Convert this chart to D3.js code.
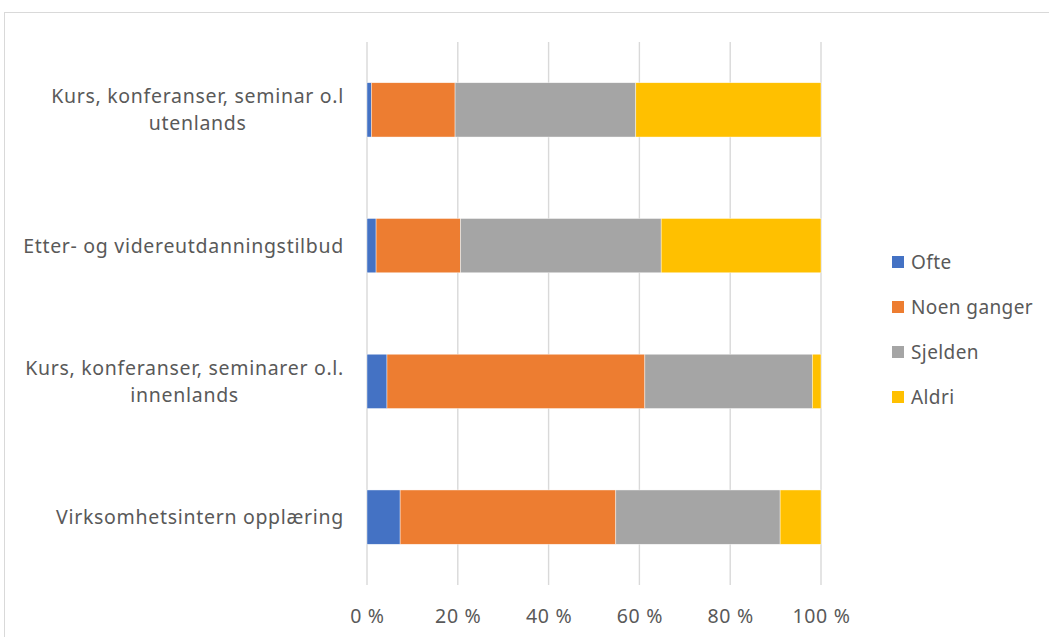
<!DOCTYPE html>
<html>
<head>
<meta charset="utf-8">
<script src="https://cdn.jsdelivr.net/npm/d3@7"></script>
<style>
  html, body { margin: 0; padding: 0; background: #fff; }
  svg { display: block; }
  text { font-family: "Noto Sans", "Open Sans", sans-serif; fill: #595959; }
</style>
</head>
<body>
<svg id="chart" width="1049" height="637"></svg>
<script>
// Categories, top to bottom; "\n" marks a line break in the axis label
const categories = [
  "Kurs, konferanser, seminar o.l\nutenlands",
  "Etter- og videreutdanningstilbud",
  "Kurs, konferanser, seminarer o.l.\ninnenlands",
  "Virksomhetsintern opplæring"
];
const seriesNames = ["Ofte", "Noen ganger", "Sjelden", "Aldri"];
// Shares in percent, one array per series, same order as categories
const ofte       = [0.95, 2.0, 4.4, 7.3];
const noenGanger = [18.45, 18.6, 56.8, 47.5];
const sjelden    = [39.8, 44.2, 36.9, 36.2];
const aldri      = [40.8, 35.2, 1.9, 9.0];
const xTicks = [0, 0.2, 0.4, 0.6, 0.8, 1.0];
const colors = ["#4472C4", "#ED7D31", "#A5A5A5", "#FFC000"];

const seriesValues = [ofte, noenGanger, sjelden, aldri];
const rows = categories.map((c, i) => {
  const r = { category: c };
  const total = seriesValues.reduce((s, arr) => s + arr[i], 0);
  seriesNames.forEach((n, k) => { r[n] = seriesValues[k][i] / total; });
  return r;
});

const svg = d3.select("#chart");
const fontFamily = "\"Noto Sans\", \"Open Sans\", sans-serif";

// Chart area frame
svg.append("rect")
  .attr("x", 4.5).attr("y", 12.5)
  .attr("width", 1060).attr("height", 640)
  .attr("fill", "#fff")
  .attr("stroke", "#d9d9d9").attr("stroke-width", 1);

const plot = { left: 367, right: 821, top: 42, bottom: 585 };

const x = d3.scaleLinear().domain([0, 1]).range([plot.left, plot.right]);
const y = d3.scaleBand().domain(categories)
  .range([plot.top, plot.bottom])
  .paddingInner(0.6).paddingOuter(0.3);
const color = d3.scaleOrdinal().domain(seriesNames).range(colors);

// Vertical gridlines
svg.append("g").selectAll("line")
  .data(xTicks).join("line")
  .attr("x1", d => x(d)).attr("x2", d => x(d))
  .attr("y1", plot.top).attr("y2", plot.bottom)
  .attr("stroke", "#d9d9d9").attr("stroke-width", 1.4);

// Stacked bars
const stacked = d3.stack().keys(seriesNames)(rows);
svg.append("g").selectAll("g")
  .data(stacked).join("g")
  .attr("fill", d => color(d.key))
  .selectAll("rect")
  .data(d => d).join("rect")
  .attr("x", d => x(d[0]))
  .attr("y", d => y(d.data.category))
  .attr("width", d => x(d[1]) - x(d[0]))
  .attr("height", y.bandwidth())
  .attr("stroke", "#ffffff").attr("stroke-width", 0.6).attr("stroke-opacity", 0.7);

// Bottom axis (percent)
const xAxis = svg.append("g")
  .attr("transform", `translate(0,${plot.bottom})`)
  .call(d3.axisBottom(x).tickValues(xTicks).tickSize(0)
    .tickFormat(d => Math.round(d * 100) + " %"));
xAxis.select(".domain").remove();
xAxis.selectAll("text")
  .attr("y", 38).attr("dy", 0)
  .style("font-size", "19.5px")
  .style("letter-spacing", "0.7px")
  .style("font-family", fontFamily)
  .attr("fill", "#595959");

// Left axis with wrapped, centred category labels
const yAxis = svg.append("g")
  .attr("transform", `translate(${plot.left},0)`)
  .call(d3.axisLeft(y).tickSize(0));
yAxis.select(".domain").remove();
const labelRight = 344 - plot.left;
const lineH = 27;
yAxis.selectAll(".tick text").each(function (d) {
  const t = d3.select(this);
  const lines = d.split("\n");
  t.text(null)
    .attr("x", null).attr("dy", null)
    .style("font-size", "19.5px")
    .style("letter-spacing", "0.7px")
    .style("font-family", fontFamily)
    .attr("fill", "#595959")
    .attr("text-anchor", "middle");
  const spans = lines.map((ln, i) => t.append("tspan")
    .attr("y", (i - (lines.length - 1) / 2) * lineH + 7)
    .text(ln));
  const maxW = d3.max(spans, s => s.node().getComputedTextLength());
  spans.forEach(s => s.attr("x", labelRight - maxW / 2));
});

// Legend
const legend = svg.append("g");
const legendY = d3.scalePoint().domain(seriesNames).range([262, 397]);
const item = legend.selectAll("g").data(seriesNames).join("g")
  .attr("transform", d => `translate(892,${legendY(d)})`);
item.append("rect")
  .attr("x", 0).attr("y", -6).attr("width", 12).attr("height", 12)
  .attr("fill", d => color(d));
item.append("text")
  .attr("x", 19).attr("y", 7)
  .style("font-size", "19px")
  .style("letter-spacing", "0.4px")
  .text(d => d);
</script>
</body>
</html>
